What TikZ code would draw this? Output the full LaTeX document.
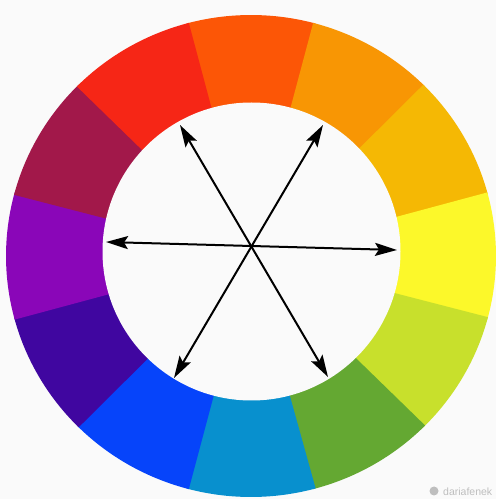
\documentclass[tikz,border=0pt]{standalone}
\usetikzlibrary{arrows.meta}
\usepackage{fontspec}
\setmainfont{Liberation Sans}
\definecolor{bg}{RGB}{250,250,250}
\definecolor{c090}{RGB}{252,86,6}
\definecolor{c060}{RGB}{248,150,4}
\definecolor{c030}{RGB}{245,184,4}
\definecolor{c000}{RGB}{252,248,42}
\definecolor{cm30}{RGB}{200,224,44}
\definecolor{cm60}{RGB}{100,168,50}
\definecolor{cm90}{RGB}{8,144,206}
\definecolor{cm120}{RGB}{6,68,250}
\definecolor{cm150}{RGB}{64,6,160}
\definecolor{c180}{RGB}{138,6,184}
\definecolor{c150}{RGB}{162,24,74}
\definecolor{c120}{RGB}{246,38,22}
\definecolor{wmark}{RGB}{190,190,190}
\tikzset{
  twohead/.style={{Stealth[length=22pt,width=13pt,inset=4pt]}-{Stealth[length=22pt,width=13pt,inset=4pt]}, line width=2pt, black},
  wmtext/.style={text=wmark, font=\fontsize{10.5}{12}\selectfont, inner sep=0pt, anchor=base west}
}
\begin{document}
\begin{tikzpicture}[x=1pt,y=1pt]
\useasboundingbox (0,0) rectangle (496,499);
\fill[bg] (0,0) rectangle (496,499);
\coordinate (O) at (251,243);
\foreach \a/\c in {90/c090,60/c060,30/c030,0/c000,-30/cm30,-60/cm60,-90/cm90,-120/cm120,-150/cm150,180/c180,150/c150,120/c120}{
  \fill[\c] (O) -- ++(\a-15.3:245 and 241) arc[start angle=\a-15.3, end angle=\a+15.3, x radius=245, y radius=241] -- cycle;
}
\fill[bg] (251.5,247.5) circle[radius=149];
\coordinate (L) at (106,257);
\coordinate (R) at (397,249);
\coordinate (UL) at (180,374);
\coordinate (LR) at (328,122);
\coordinate (UR) at (323,374);
\coordinate (LL) at (174,121);
\draw[twohead] (L) -- (R);
\draw[twohead] (UL) -- (LR);
\draw[twohead] (UR) -- (LL);
\fill[wmark] (434,8) circle[radius=4.5];
\node[wmtext] (wm) at (443,4) {dariafenek};
\end{tikzpicture}
\end{document}
